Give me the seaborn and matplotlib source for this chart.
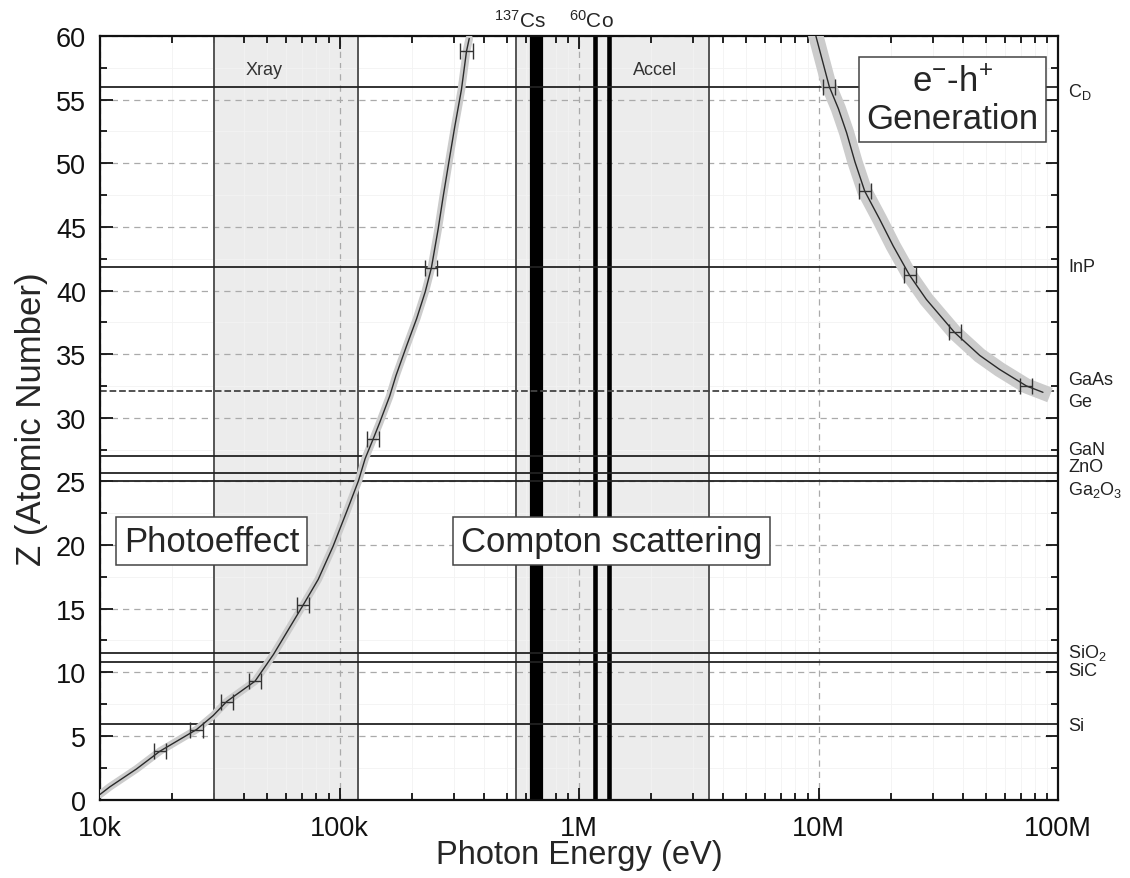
import numpy as np
import seaborn as sns
import matplotlib.pyplot as plt
import matplotlib.transforms as mtransforms
from matplotlib.ticker import LogLocator, MultipleLocator, NullFormatter

# Photoeffect / Compton boundary (energy in eV, Z)
photo_E = [10.0e3, 11.0e3, 14.2e3, 17.8e3, 25.3e3, 29.7e3, 33.8e3, 44.4e3, 53e3,
           70.6e3, 81.5e3, 94e3, 107e3, 120e3, 128e3, 138e3, 147e3, 162e3, 172e3,
           191e3, 210e3, 228e3, 242e3, 258e3, 271e3, 285e3, 303e3, 323e3, 339e3, 348e3]
photo_Z = [0.4, 1.0, 2.4, 3.8, 5.5, 6.6, 7.7, 9.3, 11.4,
           15.3, 17.3, 19.9, 22.6, 25.05, 26.8, 28.3, 29.6, 31.7, 33.3,
           35.7, 37.8, 39.9, 41.8, 44.8, 47.4, 49.9, 52.9, 55.8, 58.8, 59.8]
photo_err_E = [17.8e3, 25.3e3, 33.8e3, 44.4e3, 70.6e3, 138e3, 242e3, 339e3]
photo_err_Z = [3.8, 5.5, 7.7, 9.3, 15.3, 28.3, 41.8, 58.8]

# Compton / pair (e- h+ generation) boundary
pair_E = [9.75e6, 11.1e6, 12.1e6, 13.1e6, 14.2e6, 15.6e6, 18.0e6, 20.5e6, 24.0e6,
          28.2e6, 37.0e6, 47.1e6, 57.0e6, 73.8e6, 86.5e6]
pair_Z = [60.0, 56.0, 54.3, 52.4, 50.1, 47.8, 45.6, 43.5, 41.2,
          39.3, 36.7, 34.9, 33.8, 32.5, 32.0]
pair_err_E = [11.1e6, 15.6e6, 24.0e6, 37.0e6, 73.8e6]
pair_err_Z = [56.0, 47.8, 41.2, 36.7, 32.5]
err_factor = 1.06

# regions and sources
xray_band = (30e3, 120e3)
compton_band = (545e3, 3.5e6)
cs137 = [662e3]
co60 = [1.17e6, 1.33e6]

# materials (effective Z)
mat_Z = [56.0, 41.85, 32.1, 27.0, 25.66, 25.0, 11.5, 10.8, 5.93]
mat_ls = ['-', '-', '--', '-', '-', '-', '-', '-', '-']
label_names = [r'C$_\mathrm{D}$', 'InP', 'GaAs', 'Ge', 'GaN', 'ZnO',
               r'Ga$_2$O$_3$', r'SiO$_2$', 'SiC', 'Si']
label_Z = [55.7, 41.85, 32.97, 31.3, 27.5, 26.2, 24.4, 11.6, 10.1, 5.85]

x_ticks = [1e4, 1e5, 1e6, 1e7, 1e8]
x_labels = ['10k', '100k', '1M', '10M', '100M']

sns.set_theme(style='ticks')
plt.rcParams['font.family'] = ['Liberation Sans', 'DejaVu Sans']
plt.rcParams['mathtext.fontset'] = 'custom'
plt.rcParams['mathtext.rm'] = 'Liberation Sans'
plt.rcParams['mathtext.default'] = 'regular'

fig, ax = plt.subplots(figsize=(11.3, 8.79), dpi=100)
fig.subplots_adjust(left=0.0885, right=0.9363, bottom=0.0893, top=0.9579)
ax.set_xscale('log')

# shaded regions
for lo, hi in [xray_band, compton_band]:
    ax.axvspan(lo, hi, color='#ececec', zorder=0.1, lw=0)
    ax.axvline(lo, color='#555555', lw=1.4, zorder=1.5)
    ax.axvline(hi, color='#555555', lw=1.4, zorder=1.5)

# radiation sources
for e in cs137:
    ax.axvline(e, color='black', lw=9.5, zorder=2)
for e in co60:
    ax.axvline(e, color='black', lw=3.3, zorder=2)

# material lines
for z, ls in zip(mat_Z, mat_ls):
    ax.axhline(z, color='#222222' if ls == '-' else '#444444', lw=1.3, ls=ls, zorder=2)

# curves with uncertainty bands
sns.lineplot(x=photo_E, y=photo_Z, sort=False, estimator=None, color='#cccccc',
             lw=5.5, ax=ax, zorder=3, solid_capstyle='round')
sns.lineplot(x=photo_E, y=photo_Z, sort=False, estimator=None, color='#2a2a2a',
             lw=1.0, ax=ax, zorder=4)
sns.lineplot(x=pair_E, y=pair_Z, sort=False, estimator=None, color='#cccccc',
             lw=11, ax=ax, zorder=3, solid_capstyle='projecting')
sns.lineplot(x=pair_E, y=pair_Z, sort=False, estimator=None, color='#2a2a2a',
             lw=1.0, ax=ax, zorder=4)

for ex, ez in [(photo_err_E, photo_err_Z), (pair_err_E, pair_err_Z)]:
    ex = np.array(ex)
    xerr = [ex - ex / err_factor, ex * err_factor - ex]
    ax.errorbar(ex, ez, xerr=xerr, fmt='none', ecolor='#333333',
                elinewidth=1.0, capsize=6, capthick=1.0, zorder=5)

# axes
ax.set_xlim(1e4, 1e8)
ax.set_ylim(0, 60)
ax.set_xticks(x_ticks)
ax.set_xticklabels(x_labels)
ax.xaxis.set_minor_locator(LogLocator(base=10, subs=np.arange(2, 10), numticks=20))
ax.xaxis.set_minor_formatter(NullFormatter())
ax.yaxis.set_major_locator(MultipleLocator(5))
ax.yaxis.set_minor_locator(MultipleLocator(2.5))
ax.tick_params(which='both', direction='in', top=True, right=True, width=1.3,
               labelsize=19.5, colors='#111111')
ax.tick_params(which='major', length=9)
ax.tick_params(which='minor', length=5)
ax.tick_params(axis='x', which='major', pad=11)
ax.tick_params(axis='y', which='major', pad=10)
ax.grid(which='major', ls=(0, (5, 4)), color='#aaaaaa', lw=0.9)
ax.grid(which='minor', ls='-', color='#f3f3f3', lw=0.6)
ax.set_axisbelow(True)
for sp in ax.spines.values():
    sp.set_linewidth(1.6)
    sp.set_color('#111111')

ax.set_xlabel('Photon Energy (eV)', fontsize=23.5, labelpad=-1)
ax.set_ylabel('Z (Atomic Number)', fontsize=25, labelpad=6)

# region labels
box = dict(boxstyle='square,pad=0.22', fc='white', ec='#444444', lw=1.1)
ax.text(29.3e3, 20.3, 'Photoeffect', fontsize=25, ha='center', va='center', bbox=box, zorder=6)
ax.text(1.37e6, 20.3, 'Compton scattering', fontsize=25, ha='center', va='center', bbox=box, zorder=6)
ax.text(36.3e6, 55.0, 'e$^{-}$-h$^{+}$\nGeneration', fontsize=25, ha='center', va='center',
        linespacing=1.15, bbox=box, zorder=6)
ax.text(48.3e3, 57.4, 'Xray', fontsize=13, ha='center', va='center', color='#333333')
ax.text(2.07e6, 57.4, 'Accel', fontsize=13, ha='center', va='center', color='#333333')

# source labels above the frame
trans_top = mtransforms.blended_transform_factory(ax.transData, ax.transAxes)
ax.text(566e3, 1.012, r'$^{137}$Cs', fontsize=15, ha='center', va='baseline',
        transform=trans_top, clip_on=False)
ax.text(1.13e6, 1.012, r'$^{60}$Co', fontsize=15, ha='center', va='baseline',
        transform=trans_top, clip_on=False)

# material labels on the right
trans_right = mtransforms.blended_transform_factory(ax.transAxes, ax.transData)
for name, z in zip(label_names, label_Z):
    ax.text(1.0105, z, name, fontsize=13, ha='left', va='center', color='#222222',
            transform=trans_right, clip_on=False)

fig.savefig('out.png', dpi=100)
